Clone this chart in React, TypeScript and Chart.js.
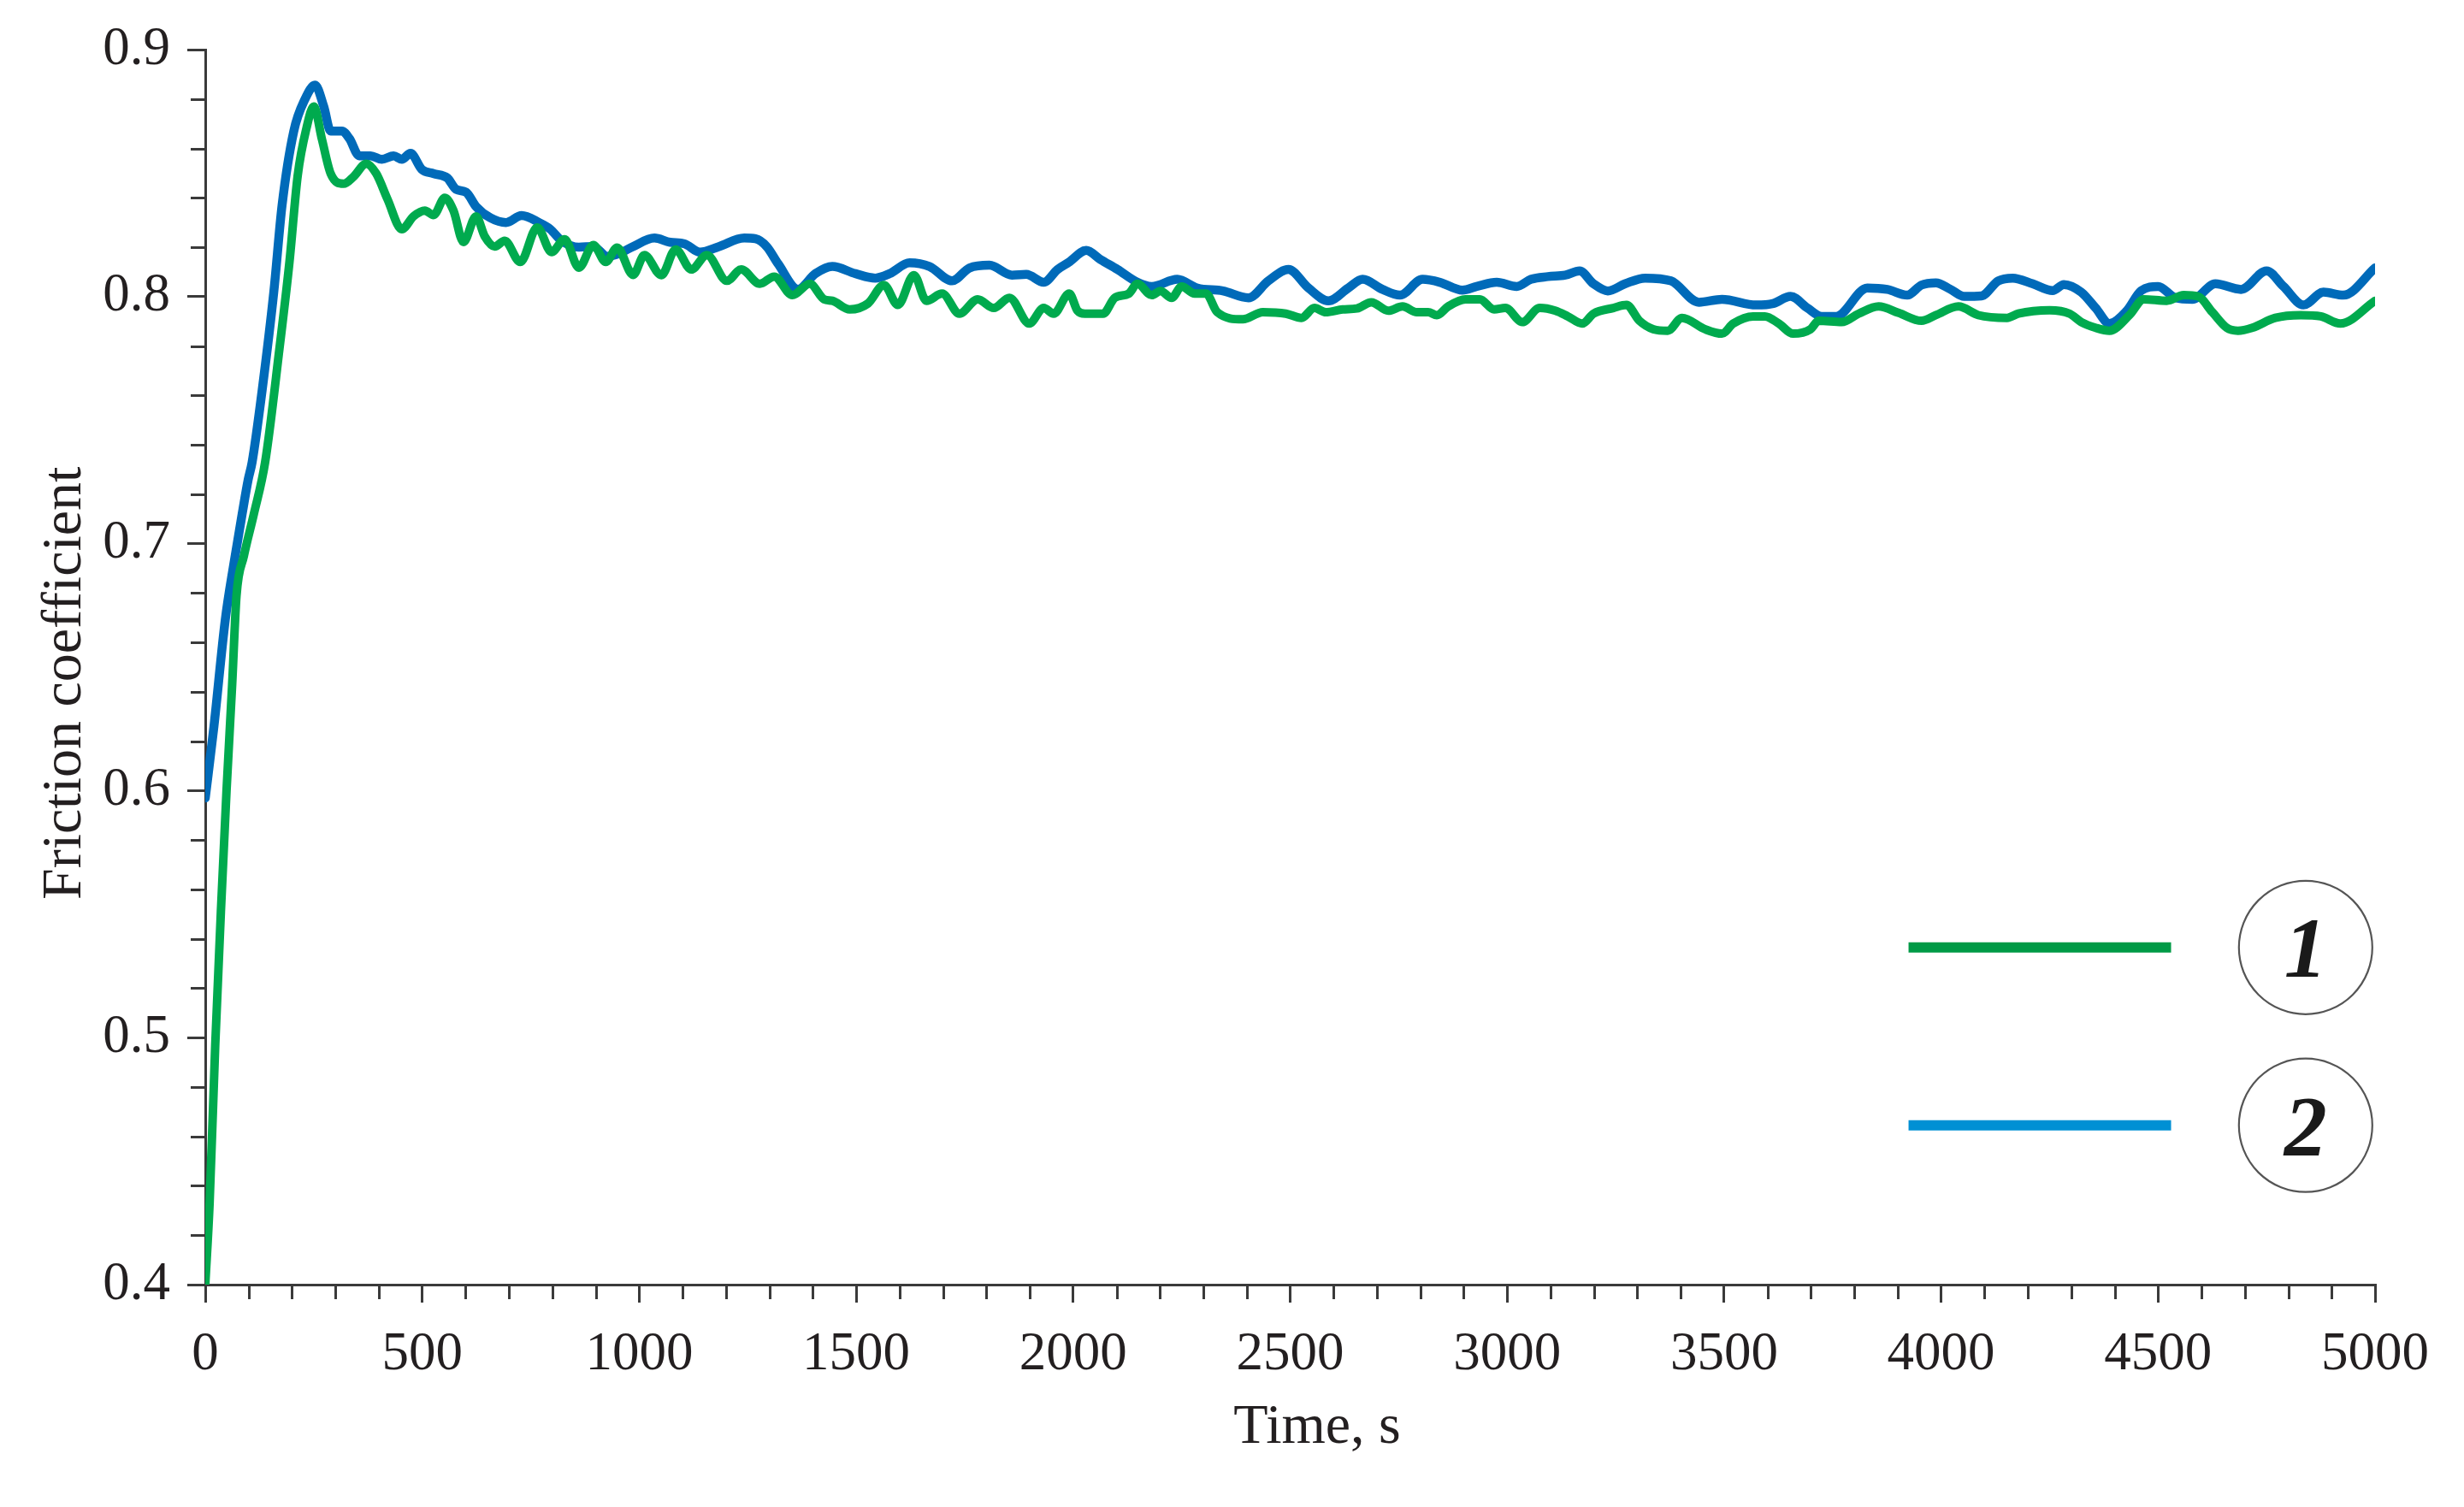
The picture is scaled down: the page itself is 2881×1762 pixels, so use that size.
import { useEffect, useRef } from "react";
import { Chart, registerables } from "chart.js";

Chart.register(...registerables);

// ---- Data ----
const seriesLabels = ["1", "2"];
const xTitle = "Time, s";
const yTitle = "Friction coefficient";

const time1 = [
  0, 10, 23, 36, 49, 62, 72, 89, 112, 138, 171, 194, 213, 233, 250, 269, 289, 319, 342, 371,
  394, 420, 453, 480, 506, 526, 552, 572, 595, 624, 644, 667, 690, 726, 765, 798, 828, 861, 894, 923,
  949, 986, 1012, 1051, 1084, 1120, 1156, 1202, 1235, 1278, 1311, 1353, 1393, 1426, 1445, 1485, 1527, 1564, 1596, 1633,
  1662, 1698, 1738, 1780, 1817, 1853, 1899, 1932, 1955, 1991, 2010, 2027, 2069, 2096, 2128, 2148, 2181, 2201, 2227, 2250,
  2280, 2306, 2332, 2391, 2437, 2490, 2526, 2556, 2582, 2621, 2654, 2687, 2726, 2759, 2792, 2818, 2838, 2864, 2904, 2937,
  2970, 2996, 3035, 3075, 3111, 3140, 3173, 3199, 3245, 3275, 3305, 3337, 3370, 3403, 3456, 3495, 3521, 3567, 3594, 3626,
  3659, 3699, 3718, 3771, 3810, 3856, 3902, 3955, 3988, 4040, 4086, 4152, 4178, 4250, 4296, 4323, 4356, 4388, 4434, 4467,
  4520, 4559, 4592, 4625, 4658, 4684, 4717, 4770, 4829, 4875, 4920, 5000,
];
const friction1 = [
  0.400, 0.433, 0.497, 0.551, 0.600, 0.643, 0.679, 0.695, 0.712, 0.733, 0.779, 0.814, 0.849, 0.868, 0.877, 0.8636, 0.8498, 0.8457, 0.8486, 0.8538,
  0.8498, 0.8394, 0.8273, 0.8325, 0.8348, 0.833, 0.840, 0.8348, 0.8221, 0.8325, 0.8244, 0.8203, 0.8226, 0.814, 0.828, 0.818, 0.8232, 0.8117, 0.8209, 0.814,
  0.8198, 0.8088, 0.8168, 0.8087, 0.8191, 0.811, 0.8168, 0.8064, 0.811, 0.8052, 0.8081, 0.8006, 0.8052, 0.7989, 0.7983, 0.7948, 0.7972, 0.8047, 0.7966, 0.8087,
  0.7983, 0.8012, 0.7931, 0.7989, 0.7954, 0.7995, 0.7891, 0.7954, 0.7931, 0.8012, 0.7943, 0.7931, 0.7931, 0.7995, 0.8012, 0.8052, 0.8006, 0.8023, 0.7995, 0.8041,
  0.8012, 0.8012, 0.7937, 0.7908, 0.7937, 0.7931, 0.7914, 0.7954, 0.7937, 0.7948, 0.7952, 0.7977, 0.7943, 0.796, 0.7937, 0.7937, 0.7925, 0.796, 0.7989, 0.7989,
  0.7948, 0.7954, 0.7897, 0.7954, 0.7943, 0.792, 0.7891, 0.7931, 0.7954, 0.7966, 0.7902, 0.7868, 0.7862, 0.7914, 0.7868, 0.785, 0.7891, 0.792, 0.792, 0.7891,
  0.785, 0.7868, 0.7902, 0.7897, 0.7931, 0.796, 0.7934, 0.7902, 0.7925, 0.796, 0.7925, 0.7914, 0.7931, 0.7945, 0.7931, 0.7897, 0.7874, 0.7862, 0.7925, 0.7989,
  0.7983, 0.8006, 0.8001, 0.7937, 0.7874, 0.7862, 0.7874, 0.7914, 0.7925, 0.792, 0.7891, 0.7983,
];

const time2 = [
  0, 20, 46, 66, 85, 99, 108, 131, 158, 177, 204, 230, 253, 273, 289, 315, 332, 355, 381, 407,
  434, 453, 473, 499, 526, 558, 578, 601, 624, 657, 693, 729, 769, 795, 821, 861, 894, 926, 953, 985,
  1035, 1071, 1104, 1140, 1183, 1242, 1268, 1294, 1320, 1366, 1406, 1445, 1498, 1544, 1577, 1623, 1669, 1721, 1761, 1807,
  1859, 1892, 1932, 1964, 1990, 2030, 2063, 2102, 2148, 2181, 2240, 2286, 2345, 2404, 2450, 2496, 2542, 2588, 2634, 2667,
  2713, 2753, 2805, 2845, 2897, 2930, 2976, 3022, 3055, 3094, 3134, 3167, 3199, 3232, 3272, 3318, 3377, 3442, 3495, 3574,
  3613, 3653, 3692, 3725, 3758, 3830, 3876, 3922, 3955, 3988, 4021, 4053, 4093, 4132, 4165, 4211, 4257, 4283, 4323, 4356,
  4388, 4428, 4461, 4500, 4540, 4579, 4632, 4691, 4750, 4789, 4835, 4881, 4927, 5000,
];
const friction2 = [
  0.597, 0.626, 0.669, 0.692, 0.712, 0.726, 0.733, 0.762, 0.802, 0.837, 0.867, 0.880, 0.8856, 0.877, 0.867, 0.867, 0.864, 0.857, 0.857, 0.8556,
  0.857, 0.8556, 0.858, 0.8515, 0.8498, 0.848, 0.8434, 0.8423, 0.8365, 0.8319, 0.830, 0.8328, 0.830, 0.8273, 0.8226, 0.820, 0.8203, 0.8163, 0.8174, 0.8202,
  0.8237, 0.822, 0.8214, 0.818, 0.8202, 0.8237, 0.8234, 0.8202, 0.8133, 0.803, 0.8093, 0.8122, 0.8093, 0.8075, 0.8093, 0.8137, 0.8122, 0.8064, 0.8116, 0.8127,
  0.8087, 0.809, 0.8058, 0.811, 0.8139, 0.8187, 0.815, 0.811, 0.8058, 0.8041, 0.807, 0.8035, 0.8023, 0.7995, 0.8064, 0.811, 0.8035, 0.7983, 0.8035, 0.807,
  0.8029, 0.8006, 0.807, 0.8058, 0.8026, 0.8041, 0.8058, 0.8041, 0.807, 0.8081, 0.8087, 0.8104, 0.8052, 0.8023, 0.8052, 0.8075, 0.8064, 0.7977, 0.7989, 0.7966,
  0.7972, 0.8001, 0.7954, 0.792, 0.792, 0.8035, 0.8029, 0.8006, 0.8047, 0.8056, 0.803, 0.8001, 0.8003, 0.8064, 0.8075, 0.8052, 0.8024, 0.8049, 0.8018, 0.7954,
  0.7891, 0.7943, 0.8024, 0.8041, 0.7995, 0.7989, 0.8052, 0.8029, 0.8104, 0.8041, 0.7966, 0.8018, 0.8006, 0.8116,
];

const X_MIN = 0;
const X_MAX = 5000;
const X_MAJOR = 500;
const X_MINOR = 100;
const Y_MIN = 0.4;
const Y_MAX = 0.9;
const Y_MAJOR = 0.1;
const Y_MINOR = 0.02;

// ---- Styles ----
const FONT = '"Liberation Serif", "Times New Roman", Times, serif';
const TEXT = "#231f20";
const AXIS = "#3a3a3a";
const LINE1 = "#00aa4e";
const LINE2 = "#006ab9";
const LEG1 = "#009a46";
const LEG2 = "#0090d4";

const minorTicksPlugin = {
  id: "minorTicks",
  afterDraw(chart: any) {
    const { ctx } = chart;
    const x = chart.scales.x;
    const y = chart.scales.y;
    ctx.save();
    ctx.strokeStyle = AXIS;
    ctx.lineWidth = 3;
    const nX = Math.round((X_MAX - X_MIN) / X_MINOR);
    for (let i = 0; i <= nX; i++) {
      const t = X_MIN + i * X_MINOR;
      if (Math.abs(t % X_MAJOR) < 1e-6) continue;
      const px = Math.round(x.getPixelForValue(t)) + 0.5;
      ctx.beginPath();
      ctx.moveTo(px, y.bottom);
      ctx.lineTo(px, y.bottom + 17);
      ctx.stroke();
    }
    const nY = Math.round((Y_MAX - Y_MIN) / Y_MINOR);
    const ratio = Math.round(Y_MAJOR / Y_MINOR);
    for (let i = 0; i <= nY; i++) {
      if (i % ratio === 0) continue;
      const v = Y_MIN + i * Y_MINOR;
      const py = Math.round(y.getPixelForValue(v)) + 0.5;
      ctx.beginPath();
      ctx.moveTo(x.left, py);
      ctx.lineTo(x.left - 17, py);
      ctx.stroke();
    }
    ctx.restore();
  },
};

const axisTitlesPlugin = {
  id: "axisTitles",
  afterDraw(chart: any) {
    const { ctx, chartArea } = chart;
    const w = chartArea.right - chartArea.left;
    const h = chartArea.bottom - chartArea.top;
    ctx.save();
    ctx.fillStyle = TEXT;
    ctx.font = `66px ${FONT}`;
    ctx.textAlign = "center";
    ctx.textBaseline = "middle";
    ctx.fillText(xTitle, chartArea.left + w * 0.5124, chartArea.bottom + 168);
    ctx.translate(chartArea.left - 163, chartArea.top + h * 0.513);
    ctx.rotate(-Math.PI / 2);
    ctx.fillText(yTitle, 0, 0);
    ctx.restore();
  },
};

const circleLegendPlugin = {
  id: "circleLegend",
  afterDraw(chart: any) {
    const { ctx, chartArea } = chart;
    const w = chartArea.right - chartArea.left;
    const h = chartArea.bottom - chartArea.top;
    const rows = [
      { color: LEG1, label: seriesLabels[0], fy: 0.727 },
      { color: LEG2, label: seriesLabels[1], fy: 0.871 },
    ];
    const x0 = chartArea.left + w * 0.785;
    const x1 = chartArea.left + w * 0.906;
    const cx = chartArea.left + w * 0.968;
    const r = 78;
    ctx.save();
    rows.forEach((row) => {
      const cy = chartArea.top + h * row.fy;
      ctx.strokeStyle = row.color;
      ctx.lineWidth = 12;
      ctx.lineCap = "butt";
      ctx.beginPath();
      ctx.moveTo(x0, cy);
      ctx.lineTo(x1, cy);
      ctx.stroke();

      ctx.strokeStyle = "#555";
      ctx.lineWidth = 2.2;
      ctx.beginPath();
      ctx.arc(cx, cy, r, 0, Math.PI * 2);
      ctx.stroke();

      ctx.fillStyle = "#1a1a1a";
      ctx.font = `italic bold 100px ${FONT}`;
      ctx.textAlign = "center";
      ctx.textBaseline = "alphabetic";
      ctx.fillText(row.label, cx, cy + 34);
    });
    ctx.restore();
  },
};

export default function App() {
  const canvasRef = useRef<HTMLCanvasElement | null>(null);

  useEffect(() => {
    document.body.style.margin = "0";
    const canvas = canvasRef.current;
    if (!canvas) return;

    const data1 = time1.map((t, i) => ({ x: t, y: friction1[i] }));
    const data2 = time2.map((t, i) => ({ x: t, y: friction2[i] }));

    const chart = new Chart(canvas, {
      type: "line",
      data: {
        datasets: [
          {
            label: seriesLabels[0],
            data: data1,
            borderColor: LINE1,
            backgroundColor: LINE1,
            borderWidth: 10,
            pointRadius: 0,
            cubicInterpolationMode: "monotone",
            borderJoinStyle: "round",
            borderCapStyle: "round",
          },
          {
            label: seriesLabels[1],
            data: data2,
            borderColor: LINE2,
            backgroundColor: LINE2,
            borderWidth: 10.5,
            pointRadius: 0,
            cubicInterpolationMode: "monotone",
            borderJoinStyle: "round",
            borderCapStyle: "round",
          },
        ],
      },
      options: {
        responsive: false,
        animation: false,
        devicePixelRatio: 1,
        layout: { padding: { top: 58, right: 104, left: 0, bottom: 0 } },
        plugins: {
          legend: { display: false },
          tooltip: { enabled: false },
        },
        scales: {
          x: {
            type: "linear",
            min: X_MIN,
            max: X_MAX,
            afterFit: (scale: any) => {
              scale.height = 260;
            },
            grid: {
              display: true,
              drawOnChartArea: false,
              drawTicks: true,
              tickLength: 21,
              color: AXIS,
              lineWidth: 3,
            },
            border: { display: true, color: AXIS, width: 3 },
            ticks: {
              stepSize: X_MAJOR,
              autoSkip: false,
              maxRotation: 0,
              padding: 24,
              color: TEXT,
              font: { family: FONT, size: 63 },
              callback: (v: any) => String(v),
            },
            title: { display: false, text: xTitle },
          },
          y: {
            type: "linear",
            min: Y_MIN,
            max: Y_MAX,
            afterFit: (scale: any) => {
              scale.width = 240;
            },
            grid: {
              display: true,
              drawOnChartArea: false,
              drawTicks: true,
              tickLength: 21,
              color: AXIS,
              lineWidth: 3,
            },
            border: { display: true, color: AXIS, width: 3 },
            ticks: {
              stepSize: Y_MAJOR,
              padding: 20,
              color: TEXT,
              font: { family: FONT, size: 63 },
              callback: (v: any) => Number(v).toFixed(1),
            },
            title: { display: false, text: yTitle },
          },
        },
      },
      plugins: [minorTicksPlugin, axisTitlesPlugin, circleLegendPlugin],
    });

    return () => {
      chart.destroy();
    };
  }, []);

  return (
    <div style={{ width: 2881, height: 1762, background: "#fff" }}>
      <canvas ref={canvasRef} width={2881} height={1762} style={{ display: "block" }} />
    </div>
  );
}
